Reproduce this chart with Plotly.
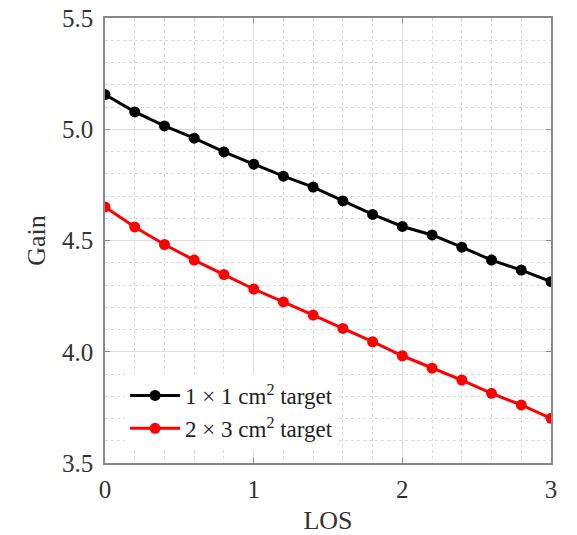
import plotly.graph_objects as go

los = [0, 0.2, 0.4, 0.6, 0.8, 1.0, 1.2, 1.4, 1.6, 1.8, 2.0, 2.2, 2.4, 2.6, 2.8, 3.0]
gain_1x1 = [5.156, 5.078, 5.015, 4.960, 4.898, 4.843, 4.789, 4.740, 4.678, 4.617,
            4.563, 4.525, 4.470, 4.412, 4.367, 4.315]
gain_2x3 = [4.651, 4.561, 4.482, 4.412, 4.347, 4.282, 4.224, 4.165, 4.105, 4.045,
            3.982, 3.926, 3.873, 3.813, 3.761, 3.701]
err_1x1 = [0.004] * 16
err_2x3 = [0.004] * 16
names = ["1 × 1 cm<sup>2</sup> target", "2 × 3 cm<sup>2</sup> target"]

FONT = "Liberation Serif"

fig = go.Figure()
for y, e, name, col in [(gain_1x1, err_1x1, names[0], "black"),
                        (gain_2x3, err_2x3, names[1], "#ff0000")]:
    fig.add_trace(go.Scatter(
        x=los, y=y, name=name, mode="lines+markers",
        line=dict(color=col, width=3),
        marker=dict(color=col, size=11),
        error_y=dict(type="data", array=e, color=col, thickness=2, width=4),
    ))

axis_common = dict(
    showline=True, linecolor="#888888", linewidth=1.5, mirror="ticks",
    ticks="inside", ticklen=5, tickcolor="#888888",
    showgrid=True, gridcolor="#dddddd", gridwidth=1,
    zeroline=False, automargin=False,
    tickfont=dict(family=FONT, size=25, color="#333333"),
)

fig.update_xaxes(
    range=[0, 3], tickvals=[0, 1, 2, 3], ticktext=["0", "1", "2", "3"],
    title=dict(text="LOS", font=dict(family=FONT, size=26, color="#333333"), standoff=10),
    ticklabelstandoff=3,
    minor=dict(dtick=0.2, showgrid=True, gridcolor="#d9d9d9", griddash="dot", gridwidth=1),
    **axis_common,
)
fig.update_yaxes(
    range=[3.5, 5.5], tickvals=[3.5, 4.0, 4.5, 5.0, 5.5],
    ticktext=["3.5", "4.0", "4.5", "5.0", "5.5"],
    title=dict(text="Gain", font=dict(family=FONT, size=26, color="#333333"), standoff=9),
    ticklabelstandoff=5,
    minor=dict(dtick=0.1, showgrid=True, gridcolor="#d9d9d9", griddash="dot", gridwidth=1),
    **axis_common,
)

fig.update_layout(
    width=577, height=535,
    margin=dict(l=105, r=26, t=18, b=72),
    plot_bgcolor="white", paper_bgcolor="white",
    legend=dict(x=0.045, y=0.2, xanchor="left", yanchor="top",
                bgcolor="rgba(255,255,255,0.9)",
                font=dict(family=FONT, size=23, color="#222222"),
                itemwidth=50, tracegroupgap=0),
    showlegend=True,
)

fig.write_html("out.html")
